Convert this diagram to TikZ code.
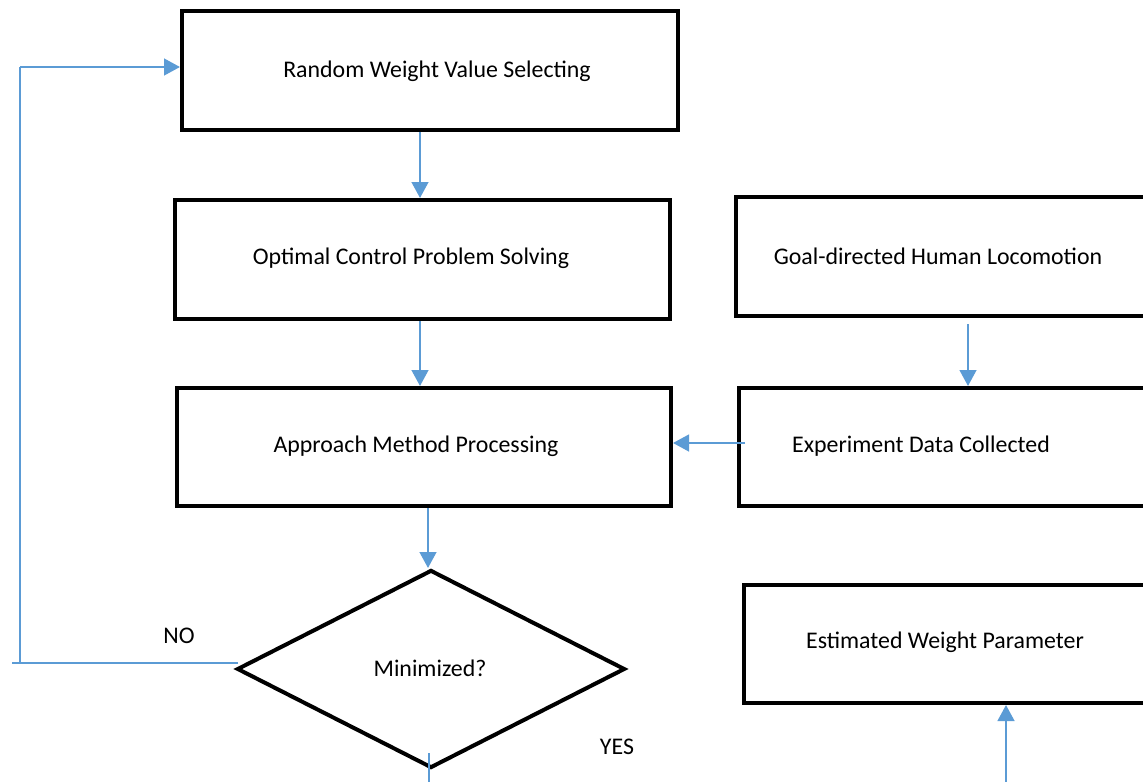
\documentclass[tikz,border=0pt]{standalone}
\usepackage{fontspec}
\setmainfont{Carlito}
\usetikzlibrary{shapes.geometric,arrows.meta,calc}
\definecolor{arrblue}{HTML}{5B9BD5}
\tikzset{
  box/.style={draw=black, line width=3pt, rectangle, inner sep=0pt},
  lbl/.style={inner sep=0pt, font=\fontsize{17.9}{21}\selectfont},
  arr/.style={draw=arrblue, line width=1.8pt, -{Triangle[width=12.5pt,length=12pt]}},
  thinline/.style={draw=arrblue, line width=0.9pt},
}
\begin{document}
\begin{tikzpicture}[x=0.75pt,y=-0.75pt]
\clip (0,0) rectangle (1143,782);
\fill[white] (0,0) rectangle (1143,782);
% boxes
\node[box, minimum width=372pt, minimum height=89.25pt] (A) at (430,70.5) {};
\node[box, minimum width=371.25pt, minimum height=89.25pt] (B) at (422.5,259.5) {};
\node[box, minimum width=370.5pt, minimum height=88.5pt] (D) at (424,447) {};
\node[box, minimum width=325.5pt, minimum height=89.25pt] (C) at (953,256.5) {};
\node[box, minimum width=323.25pt, minimum height=88.5pt] (E) at (954.5,447) {};
\node[box, minimum width=319.5pt, minimum height=88.5pt] (F) at (957,644) {};
\node[box, diamond, minimum width=291pt, minimum height=148.5pt] (M) at (431,669) {};
% texts
\node[lbl] (tA) at (437,71) {Random Weight Value Selecting};
\node[lbl] (tB) at (411,258) {Optimal Control Problem Solving};
\node[lbl] (tD) at (416,446) {Approach Method Processing};
\node[lbl] (tC) at (938,256) {Goal-directed Human Locomotion};
\node[lbl] (tE) at (921,446) {Experiment Data Collected};
\node[lbl] (tF) at (945,642) {Estimated Weight Parameter};
\node[lbl] (tM) at (430,668) {Minimized?};
\node[lbl] (no) at (179,636) {NO};
\node[lbl] (yes) at (617,747) {YES};
% helper coordinates
\coordinate (c1) at (420,0);
\coordinate (c2) at (968,0);
\coordinate (c3) at (0,443);
\coordinate (c4) at (428,0);
\coordinate (n1) at (12,663);
\coordinate (n2) at (20,663);
\coordinate (n3) at (20,67);
\coordinate (b1) at (429,790);
\coordinate (b2) at (1006,790);
% connectors
\draw[arr] (A.south -| c1) -- (B.north -| c1);
\draw[arr] (B.south -| c1) -- (D.north -| c1);
\draw[arr] ($(C.south -| c2)+(0,6)$) -- (E.north -| c2);
\draw[arr] ($(E.west |- c3)+(8,0)$) -- (D.east |- c3);
\draw[arr] (D.south -| c4) -- (M.north -| c4);
\draw[thinline] ($(M.west)+(3,-6)$) -- (n1);
\draw[thinline] (n2) -- (n3);
\draw[arr] (n3) -- (A.west |- n3);
\draw[thinline] ($(M.south)+(-2,-17)$) -- (b1);
\draw[arr] (b2) -- (F.south -| b2);
\end{tikzpicture}
\end{document}
